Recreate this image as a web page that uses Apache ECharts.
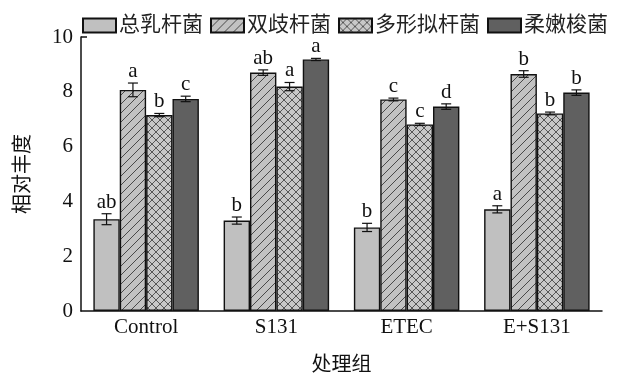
<!DOCTYPE html>
<html>
<head>
<meta charset="utf-8">
<script src="https://cdn.jsdelivr.net/npm/echarts@6/dist/echarts.min.js"></script>
<style>
  html, body { margin: 0; padding: 0; background: #ffffff; }
  #chart { width: 620px; height: 376px; }
</style>
</head>
<body>
<div id="chart"></div>
<script>
// Treatment groups and bacterial taxa
const groups = ['Control', 'S131', 'ETEC', 'E+S131'];
const taxa = ['总乳杆菌', '双歧杆菌', '多形拟杆菌', '柔嫩梭菌'];
const yTicks = [0, 2, 4, 6, 8, 10];

// Relative abundance (mean) per group
const lactobacillus   = [3.35, 3.30, 3.05, 3.71];
const bifidobacterium = [8.07, 8.70, 7.72, 8.65];
const bacteroides     = [7.15, 8.19, 6.81, 7.21];
const clostridium     = [7.74, 9.18, 7.46, 7.97];

// Standard errors
const lactobacillusErr   = [0.20, 0.13, 0.15, 0.13];
const bifidobacteriumErr = [0.25, 0.10, 0.05, 0.12];
const bacteroidesErr     = [0.06, 0.15, 0.04, 0.05];
const clostridiumErr     = [0.10, 0.04, 0.10, 0.10];

// Significance letters
const lactobacillusSig   = ['ab', 'b', 'b', 'a'];
const bifidobacteriumSig = ['a', 'ab', 'c', 'b'];
const bacteroidesSig     = ['b', 'a', 'c', 'b'];
const clostridiumSig     = ['c', 'a', 'd', 'b'];

const means = [lactobacillus, bifidobacterium, bacteroides, clostridium];
const errs = [lactobacillusErr, bifidobacteriumErr, bacteroidesErr, clostridiumErr];
const sigs = [lactobacillusSig, bifidobacteriumSig, bacteroidesSig, clostridiumSig];

const serifFont = '"Liberation Serif", "Times New Roman", "Noto Sans CJK SC", serif';
const CAT_GAP = 0.19;

// Tiled hatch fills
function hatchPattern(bg, dirs, size, lineColor, lineWidth) {
  const c = document.createElement('canvas');
  c.width = size; c.height = size;
  const ctx = c.getContext('2d');
  ctx.fillStyle = bg;
  ctx.fillRect(0, 0, size, size);
  ctx.strokeStyle = lineColor;
  ctx.lineWidth = lineWidth;
  ctx.beginPath();
  dirs.forEach(function (d) {
    if (d === '/') {
      ctx.moveTo(-1, size + 1); ctx.lineTo(size + 1, -1);
      ctx.moveTo(-1, 1); ctx.lineTo(1, -1);
      ctx.moveTo(size - 1, size + 1); ctx.lineTo(size + 1, size - 1);
    } else {
      ctx.moveTo(-1, -1); ctx.lineTo(size + 1, size + 1);
      ctx.moveTo(size - 1, -1); ctx.lineTo(size + 1, 1);
      ctx.moveTo(-1, size - 1); ctx.lineTo(1, size + 1);
    }
  });
  ctx.stroke();
  return { image: c, repeat: 'repeat' };
}

const fills = [
  '#c0c0c0',
  hatchPattern('#c2c2c2', ['/'], 9, '#3a3a3a', 0.9),
  hatchPattern('#c8c8c8', ['/', '\\'], 8, '#3a3a3a', 0.8),
  '#606060'
];

const barSeries = taxa.map(function (name, k) {
  return {
    name: name,
    type: 'bar',
    data: means[k],
    barGap: '0%',
    barCategoryGap: (CAT_GAP * 100) + '%',
    itemStyle: { color: fills[k], borderColor: '#111111', borderWidth: 1.4 },
    emphasis: { disabled: true }
  };
});

// Error bars and significance letters, positioned at the matching bar
const errSeries = taxa.map(function (name, k) {
  return {
    type: 'custom',
    z: 5,
    silent: true,
    data: groups.map(function (g, i) { return [i, means[k][i], errs[k][i]]; }),
    encode: { x: 0, y: 1 },
    renderItem: function (params, api) {
      const idx = api.value(0);
      const v = api.value(1);
      const e = api.value(2);
      const band = api.size([1, 0])[0];
      const bw = band * (1 - CAT_GAP) / 4;
      const cx = api.coord([idx, 0])[0] + (k - 1.5) * bw;
      const yTop = api.coord([idx, v + e])[1];
      const yBot = api.coord([idx, v - e])[1];
      const cap = 5;
      const st = { stroke: '#111111', lineWidth: 1.2 };
      return {
        type: 'group',
        children: [
          { type: 'line', shape: { x1: cx, y1: yTop, x2: cx, y2: yBot }, style: st },
          { type: 'line', shape: { x1: cx - cap, y1: yTop, x2: cx + cap, y2: yTop }, style: st },
          { type: 'line', shape: { x1: cx - cap, y1: yBot, x2: cx + cap, y2: yBot }, style: st },
          {
            type: 'text',
            style: {
              x: cx, y: yTop - 1,
              text: sigs[k][params.dataIndex],
              fill: '#111111',
              font: '21px ' + serifFont,
              align: 'center',
              verticalAlign: 'bottom'
            }
          }
        ]
      };
    }
  };
});

const chart = echarts.init(document.getElementById('chart'), null, { renderer: 'canvas' });
chart.setOption({
  backgroundColor: '#ffffff',
  animation: false,
  textStyle: { fontFamily: serifFont },
  legend: {
    data: taxa,
    icon: 'rect',
    left: 82,
    top: 15,
    width: 560,
    padding: 0,
    itemWidth: 33,
    itemHeight: 14,
    itemGap: 7,
    textStyle: { fontSize: 21, color: '#222222', padding: [0, 0, 0, -2] }
  },
  grid: { left: 81, right: 18, top: 37, bottom: 65, outerBoundsMode: 'none', containLabel: false },
  xAxis: {
    type: 'category',
    data: groups,
    name: '处理组',
    nameLocation: 'middle',
    nameGap: 45,
    nameTextStyle: { fontSize: 20, color: '#111111' },
    axisLine: { lineStyle: { color: '#111111', width: 1.5 } },
    axisTick: { show: false },
    axisLabel: { fontSize: 21, color: '#111111', margin: 6 }
  },
  yAxis: {
    type: 'value',
    min: yTicks[0],
    max: yTicks[yTicks.length - 1],
    interval: yTicks[1] - yTicks[0],
    name: '相对丰度',
    nameLocation: 'middle',
    nameGap: 47,
    nameTextStyle: { fontSize: 20, color: '#111111' },
    axisLine: { show: true, lineStyle: { color: '#111111', width: 1.5 } },
    axisTick: { show: false },
    splitLine: { show: false },
    axisLabel: { fontSize: 21, color: '#111111', margin: 8 }
  },
  series: barSeries.concat(errSeries)
});

// Short inward cap at the top of the value axis
const topLeft = chart.convertToPixel({ gridIndex: 0 }, [0, yTicks[yTicks.length - 1]]);
const axisX = chart.getModel().getComponent('grid', 0).coordinateSystem.getRect().x;
chart.setOption({
  graphic: [{
    type: 'line',
    silent: true,
    shape: { x1: axisX, y1: topLeft[1], x2: axisX + 6, y2: topLeft[1] },
    style: { stroke: '#111111', lineWidth: 1.5 }
  }]
});
</script>
</body>
</html>
